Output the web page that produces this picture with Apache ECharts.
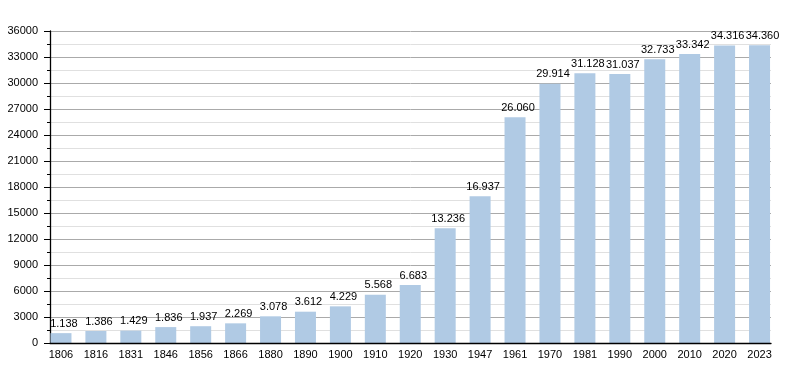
<!DOCTYPE html>
<html>
<head>
<meta charset="utf-8">
<script src="https://cdn.jsdelivr.net/npm/echarts@6/dist/echarts.min.js"></script>
<style>html,body{margin:0;padding:0;background:#fff;}#c{width:800px;height:373px;}</style>
</head>
<body>
<div id="c"></div>
<script>
const years = ['1806','1816','1831','1846','1856','1866','1880','1890','1900','1910','1920','1930','1947','1961','1970','1981','1990','2000','2010','2020','2023'];
const population = [1138,1386,1429,1836,1937,2269,3078,3612,4229,5568,6683,13236,16937,26060,29914,31128,31037,32733,33342,34316,34360];
const yMin = 0, yMax = 36000, yStep = 3000;

const chart = echarts.init(document.getElementById('c'), null, {renderer:'canvas'});
const font = 'Liberation Sans, Arial, sans-serif';
chart.setOption({
  animation:false,
  backgroundColor:'#fff',
  grid:[
    {left:50, right:29, top:31, bottom:30},
    {left:43.5, right:23, top:31, bottom:30}
  ],
  xAxis:[
    {gridIndex:0, type:'category', data:years, z:10,
     axisLine:{show:true, lineStyle:{color:'#000', width:1.3}},
     axisTick:{show:false}, axisLabel:{show:false}, splitLine:{show:false}},
    {gridIndex:1, type:'category', data:years,
     axisLine:{show:false}, axisTick:{show:false},
     axisLabel:{show:true, color:'#000', fontFamily:font, fontSize:11, margin:6, interval:0}}
  ],
  yAxis:[
    {gridIndex:0, type:'value', min:yMin, max:yMax, interval:yStep, z:0,
     axisLine:{show:true, lineStyle:{color:'#000', width:1.3}},
     axisTick:{show:true, length:6, lineStyle:{color:'#000'}},
     minorTick:{show:true, splitNumber:2, length:3, lineStyle:{color:'#000'}},
     splitLine:{show:true, lineStyle:{color:'#aaaaaa', width:1}},
     minorSplitLine:{show:true, lineStyle:{color:'#e0e0e0', width:1}},
     axisLabel:{color:'#000', fontFamily:font, fontSize:11, margin:12, formatter:v => String(v)}},
    {gridIndex:1, type:'value', min:yMin, max:yMax, interval:yStep, show:false,
     splitLine:{show:false}}
  ],
  series:[{
    type:'bar', xAxisIndex:1, yAxisIndex:1, data:population, barWidth:21, z:5,
    itemStyle:{color:'#b0cae4'},
    label:{show:true, position:'top', distance:4, offset:[3,0], color:'#000', fontFamily:font, fontSize:11,
      formatter:p => (p.value/1000).toFixed(3)}
  }]
});
</script>
</body>
</html>
